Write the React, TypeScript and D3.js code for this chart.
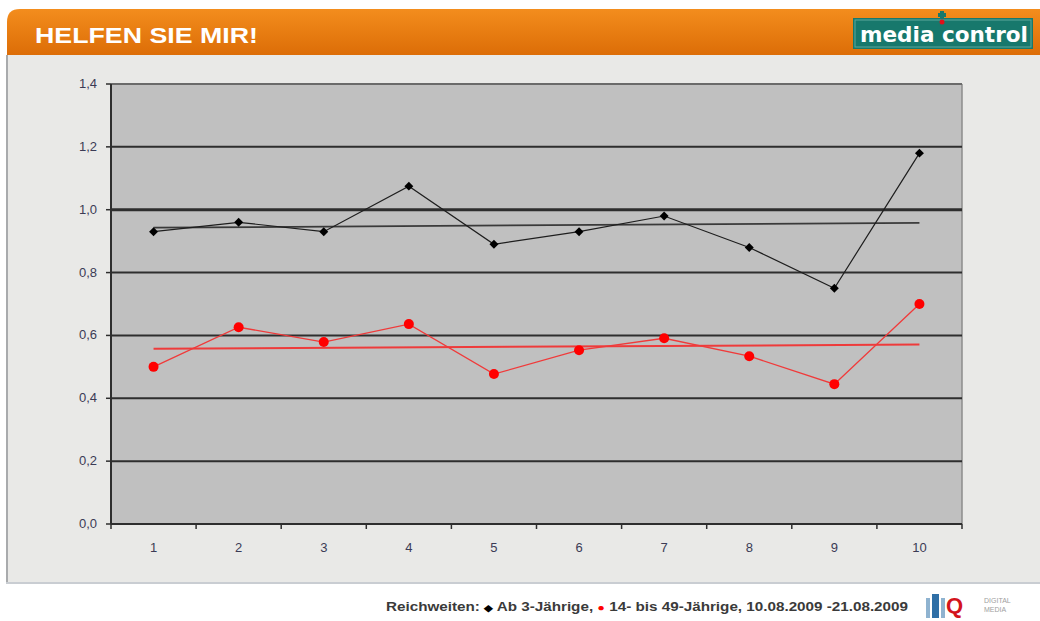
import * as d3 from "d3";

// chart values
const categories = ["1", "2", "3", "4", "5", "6", "7", "8", "9", "10"];
const ab3 = [0.93, 0.96, 0.93, 1.075, 0.89, 0.93, 0.98, 0.88, 0.75, 1.18];
const age1449 = [0.5, 0.626, 0.579, 0.636, 0.477, 0.553, 0.591, 0.534, 0.445, 0.7];
const yTicks = [0, 0.2, 0.4, 0.6, 0.8, 1.0, 1.2, 1.4];

// linear trend like Excel's trendline
function trend(values: number[]) {
  const n = values.length;
  const xs = values.map((_, i) => i + 1);
  const mx = d3.mean(xs) as number;
  const my = d3.mean(values) as number;
  let sxy = 0;
  let sxx = 0;
  xs.forEach((x, i) => {
    sxy += (x - mx) * (values[i] - my);
    sxx += (x - mx) * (x - mx);
  });
  const slope = sxy / sxx;
  return [my + slope * (1 - mx), my + slope * (n - mx)];
}

export default function App() {
  const W = 1040;
  const H = 621;
  const plot = { left: 111, right: 962, top: 84, bottom: 524 };

  const x = d3
    .scaleBand()
    .domain(categories)
    .range([plot.left, plot.right]);
  const y = d3
    .scaleLinear()
    .domain([0, 1.4])
    .range([plot.bottom, plot.top]);
  const cx = (i: number) => (x(categories[i]) as number) + x.bandwidth() / 2;

  const line = d3
    .line<number>()
    .x((_, i) => cx(i))
    .y((d) => y(d));

  // square turned 45 degrees = Excel diamond
  const diamond = d3.symbol().type(d3.symbolSquare).size(40)() as string;

  const tBlack = trend(ab3);
  const tRed = trend(age1449);
  const firstX = cx(0);
  const lastX = cx(categories.length - 1);

  // band boundaries for the x ticks
  const boundaries = categories.map((c) => x(c) as number).concat([plot.right]);

  return (
    <svg
      width={W}
      height={H}
      style={{ position: "absolute", left: 0, top: 0, fontFamily: "Liberation Sans, Arial, sans-serif" }}
    >
      <defs>
        <linearGradient id="head" x1="0" y1="0" x2="0" y2="1">
          <stop offset="0" stopColor="#f38d1d" />
          <stop offset="1" stopColor="#dc6d07" />
        </linearGradient>
      </defs>
      <rect width={W} height={H} fill="#ffffff" />

      {/* panel */}
      <rect x={6} y={55} width={W} height={528} fill="#e9e9e7" />
      <line x1={7} x2={7} y1={55} y2={583} stroke="#a9abad" strokeWidth={2} />
      <line x1={6} x2={W} y1={583} y2={583} stroke="#c9cdd2" strokeWidth={2} />

      {/* header */}
      <path d={`M7,55 L7,22 Q7,9 20,9 L${W},9 L${W},55 Z`} fill="url(#head)" />
      <text
        x={35}
        y={43}
        fill="#ffffff"
        fontSize={22}
        fontWeight="bold"
        textLength={223}
        lengthAdjust="spacingAndGlyphs"
      >
        HELFEN SIE MIR!
      </text>

      {/* media control logo */}
      <rect x={853} y={18} width={180} height={31} fill="#17786c" />
      <rect x={855} y={20} width={176} height={27} fill="none" stroke="#5ea79c" strokeWidth={1} />
      <text
        x={860}
        y={42}
        fill="#ffffff"
        fontSize={21}
        fontWeight="bold"
        fontFamily="DejaVu Sans, sans-serif"
        textLength={168}
        lengthAdjust="spacingAndGlyphs"
      >
        media control
      </text>
      <path d="M940,11 h4 v2 h2 v4 h-2 v2 h-4 v-2 h-2 v-4 h2 z" fill="#17786c" />
      <circle cx={942} cy={22} r={2.5} fill="#e0101a" />

      {/* plot area */}
      <rect
        x={plot.left}
        y={plot.top}
        width={plot.right - plot.left}
        height={plot.bottom - plot.top}
        fill="#c0c0c0"
      />
      <line x1={plot.right} x2={plot.right} y1={plot.top} y2={plot.bottom} stroke="#8c8c8c" strokeWidth={1.5} />

      {/* grid + y ticks */}
      {yTicks.map((t) => (
        <g key={t}>
          {t > 0 && (
            <line
              x1={plot.left}
              x2={plot.right}
              y1={y(t)}
              y2={y(t)}
              stroke={t === 1.4 ? "#6a6a6a" : "#2e2e2e"}
              strokeWidth={t === 1.0 ? 3 : 2}
            />
          )}
          <line x1={plot.left - 5} x2={plot.left} y1={y(t)} y2={y(t)} stroke="#2e2e2e" strokeWidth={1.5} />
          <text x={97} y={y(t) + 4} textAnchor="end" fontSize={13} fill="#3b3b55">
            {t.toFixed(1).replace(".", ",")}
          </text>
        </g>
      ))}

      {/* axes */}
      <line x1={plot.left} x2={plot.left} y1={plot.top} y2={plot.bottom} stroke="#2e2e2e" strokeWidth={2} />
      <line x1={plot.left} x2={plot.right} y1={plot.bottom} y2={plot.bottom} stroke="#2e2e2e" strokeWidth={2} />
      {boundaries.map((b, i) => (
        <line key={i} x1={b} x2={b} y1={plot.bottom} y2={plot.bottom + 5} stroke="#2e2e2e" strokeWidth={1.5} />
      ))}
      {categories.map((c, i) => (
        <text key={c} x={cx(i)} y={552} textAnchor="middle" fontSize={13} fill="#3b3b55">
          {c}
        </text>
      ))}

      {/* trend lines */}
      <line x1={firstX} x2={lastX} y1={y(tBlack[0])} y2={y(tBlack[1])} stroke="#3a3a3a" strokeWidth={1.8} />
      <line x1={firstX} x2={lastX} y1={y(tRed[0])} y2={y(tRed[1])} stroke="#ee3b3b" strokeWidth={2} />

      {/* series */}
      <path d={line(ab3) as string} fill="none" stroke="#1e1e1e" strokeWidth={1.2} />
      {ab3.map((v, i) => (
        <path key={i} d={diamond} transform={`translate(${cx(i)},${y(v)}) rotate(45)`} fill="#000000" />
      ))}
      <path d={line(age1449) as string} fill="none" stroke="#f03a3a" strokeWidth={1.3} />
      {age1449.map((v, i) => (
        <circle key={i} cx={cx(i)} cy={y(v)} r={5} fill="#ff0000" />
      ))}

      {/* footer */}
      <text
        x={386}
        y={611}
        fontSize={12}
        fontWeight="bold"
        fill="#3a3a3a"
        textLength={522}
        lengthAdjust="spacingAndGlyphs"
      >
        Reichweiten: <tspan fill="#000" fontSize={9}>◆</tspan> Ab 3-Jährige,  <tspan fill="#ff0000" fontSize={10}>●</tspan>  14- bis 49-Jährige, 10.08.2009 -21.08.2009
      </text>

      {/* IQ logo */}
      <rect x={926} y={598} width={4} height={20} fill="#8fb3d0" />
      <rect x={932} y={594} width={7} height={24} fill="#2f6fa6" />
      <rect x={941} y={598} width={4} height={20} fill="#8fb3d0" />
      <text x={946} y={613} fontSize={22} fontWeight="bold" fill="#d3141c">
        Q
      </text>
      <text x={984} y={603} fontSize={7} fill="#a0a0a0">
        DIGITAL
      </text>
      <text x={984} y={612} fontSize={7} fill="#a0a0a0">
        MEDIA
      </text>
    </svg>
  );
}
